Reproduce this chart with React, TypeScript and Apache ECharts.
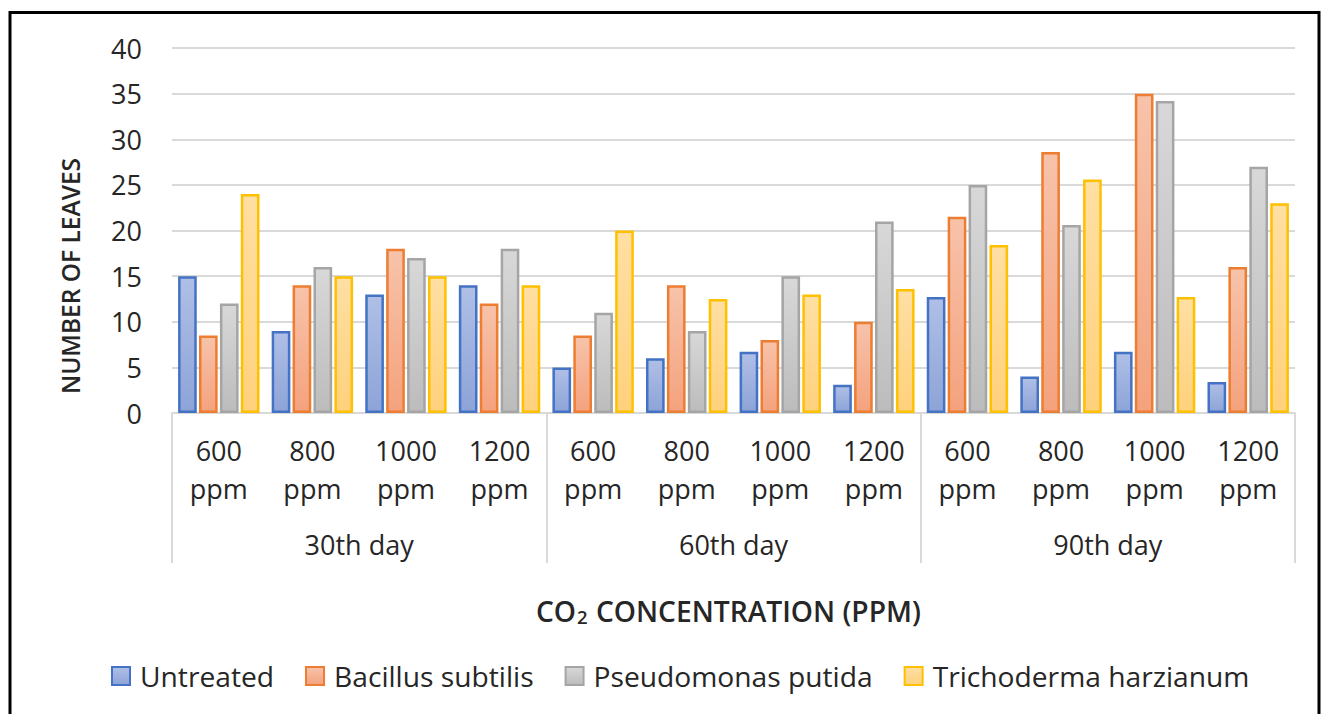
import React, { useEffect, useRef } from "react";
import * as echarts from "echarts";

const ppmLabels = ["600\nppm", "800\nppm", "1000\nppm", "1200\nppm", "600\nppm", "800\nppm", "1000\nppm", "1200\nppm", "600\nppm", "800\nppm", "1000\nppm", "1200\nppm"];
const dayLabels = ["30th day", "60th day", "90th day"];
const yTicks = { min: 0, max: 40, interval: 5 };

const untreated = [15, 9, 13, 14, 5, 6, 6.7, 3.1, 12.7, 4, 6.7, 3.4];
const bacillus = [8.5, 14, 18, 12, 8.5, 14, 8, 10, 21.5, 28.6, 35, 16];
const pseudomonas = [12, 16, 17, 18, 11, 9, 15, 21, 25, 20.6, 34.2, 27];
const trichoderma = [24, 15, 15, 14, 20, 12.5, 13, 13.6, 18.4, 25.6, 12.7, 23];

const seriesNames = ["Untreated", "Bacillus subtilis", "Pseudomonas putida", "Trichoderma harzianum"];

const FONT = "'Open Sans', Lato, sans-serif";
const TXT = "#262626";

function grad(top: string, bottom: string) {
  return new echarts.graphic.LinearGradient(0, 0, 0, 1, [
    { offset: 0, color: top },
    { offset: 1, color: bottom },
  ]);
}

export default function App() {
  const ref = useRef<HTMLDivElement>(null);
  useEffect(() => {
    if (!ref.current) return;
    const chart = echarts.init(ref.current, undefined, { renderer: "svg" });
    const styles = [
      { fill: grad("#AFBFE6", "#8DA4D8"), border: "#4472C4" },
      { fill: grad("#F7C3AB", "#F4A27D"), border: "#ED7D31" },
      { fill: grad("#D8D8D8", "#BCBCBC"), border: "#A5A5A5" },
      { fill: grad("#FFDFA3", "#FFD17C"), border: "#FFC000" },
    ];
    const data = [untreated, bacillus, pseudomonas, trichoderma];
    chart.setOption({
      animation: false,
      backgroundColor: "#ffffff",
      textStyle: { fontFamily: FONT },
      grid: { left: 172, right: 28, top: 48, bottom: 301, containLabel: false },
      xAxis: [
        {
          type: "category",
          data: ppmLabels,
          position: "bottom",
          axisLine: { show: true, lineStyle: { color: "#D9D9D9", width: 2 } },
          axisTick: { show: false },
          axisLabel: {
            color: TXT,
            fontSize: 27,
            lineHeight: 38,
            margin: 18,
            fontFamily: FONT,
            interval: 0,
          },
        },
        {
          type: "category",
          data: dayLabels,
          position: "bottom",
          axisLine: { show: false },
          axisTick: { show: true, length: 150, lineStyle: { color: "#D9D9D9", width: 2 } },
          axisLabel: {
            color: TXT,
            fontSize: 27,
            lineHeight: 28,
            margin: 117,
            fontFamily: FONT,
            interval: 0,
          },
        },
      ],
      yAxis: {
        type: "value",
        min: yTicks.min,
        max: yTicks.max,
        interval: yTicks.interval,
        axisLine: { show: false },
        axisTick: { show: false },
        splitLine: { lineStyle: { color: "#D9D9D9", width: 2 } },
        axisLabel: { color: TXT, fontSize: 27, margin: 30, fontFamily: FONT },
      },
      legend: {
        left: 106,
        top: 657,
        itemWidth: 18,
        itemHeight: 18,
        itemGap: 31,
        icon: "rect",
        textStyle: { color: TXT, fontSize: 28.2, lineHeight: 28, fontFamily: FONT, padding: [0, 0, 0, 5] },
        data: seriesNames,
      },
      title: {
        text: "{n|CO}{s|2}{n| CONCENTRATION (PPM)}",
        left: 531,
        top: 591,
        textStyle: {
          fontWeight: 600,
          rich: {
            n: { fontSize: 28.2, fontWeight: 600, color: TXT, fontFamily: FONT, lineHeight: 30 },
            s: { fontSize: 18.5, fontWeight: 600, color: TXT, fontFamily: FONT, verticalAlign: "bottom", padding: [0, 1, 0, 1], lineHeight: 24 },
          },
        },
      },
      graphic: [
        {
          type: "text",
          x: 70,
          y: 276,
          rotation: Math.PI / 2,
          style: {
            text: "NUMBER OF LEAVES",
            fontSize: 24.5,
            fontWeight: 600,
            fontFamily: FONT,
            fill: TXT,
            align: "center",
            verticalAlign: "middle",
          },
        },
        {
          type: "rect",
          shape: { x: 10, y: 12.5, width: 1309, height: 720 },
          style: { fill: "none", stroke: "#000000", lineWidth: 3 },
          silent: true,
        },
      ],
      series: seriesNames.map((name, i) => ({
        name,
        type: "bar",
        data: data[i],
        barCategoryGap: "13%",
        barGap: "12%",
        itemStyle: { color: styles[i].fill, borderColor: styles[i].border, borderWidth: 2.5 },
      })),
    });
    return () => chart.dispose();
  }, []);
  return (
    <div
      ref={ref}
      style={{ position: "fixed", left: 0, top: 0, width: 1323, height: 714 }}
    />
  );
}
